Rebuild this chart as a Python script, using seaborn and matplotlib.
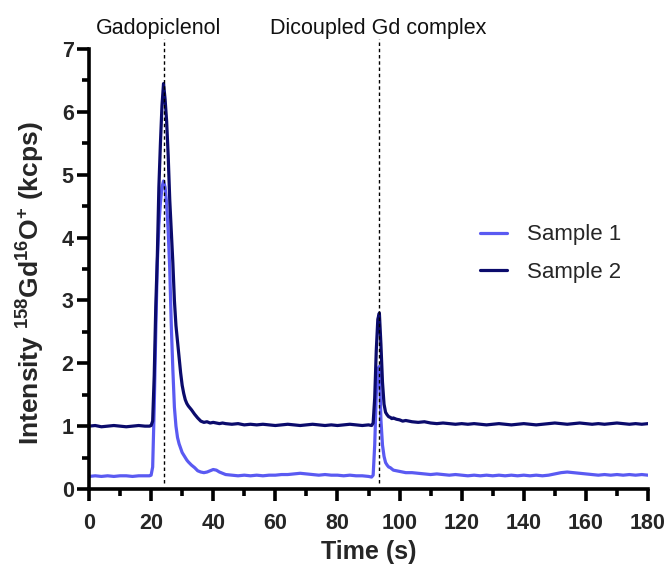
import numpy as np
import pandas as pd
import matplotlib
matplotlib.use("Agg")
import matplotlib.pyplot as plt
from matplotlib.ticker import MultipleLocator
import seaborn as sns

# ---------------- data ----------------
time_s = [0, 2, 4, 6, 8, 10, 12, 14, 16, 18,
          19, 19.5, 20, 20.5, 21, 21.5, 22, 22.5, 23, 23.5, 24, 24.5, 25, 25.5,
          26, 26.5, 27, 27.5, 28, 28.5, 29, 29.5, 30, 30.5, 31, 31.5, 32,
          33, 34, 35, 36, 37, 38, 39, 40, 41, 42, 43, 44,
          46, 48, 50, 52, 54, 56, 58, 60, 62, 64, 66, 68, 70, 72, 74, 76, 78,
          80, 82, 84, 86, 88, 90,
          91, 91.5, 92, 92.5, 93, 93.5, 94, 94.5, 95, 95.5, 96, 96.5, 97, 97.5, 98,
          99, 100, 101, 102,
          104, 106, 108, 110, 112, 114, 116, 118, 120, 122, 124, 126, 128, 130,
          132, 134, 136, 138, 140, 142, 144, 146, 148, 150, 152, 154, 156, 158,
          160, 162, 164, 166, 168, 170, 172, 174, 176, 178, 180]

sample1 = [0.20, 0.21, 0.20, 0.21, 0.20, 0.21, 0.21, 0.20, 0.21, 0.21,
           0.21, 0.21, 0.22, 0.35, 1.30, 2.50, 3.60, 4.20, 4.55, 4.80, 4.90, 4.80, 4.55, 4.10,
           3.50, 2.60, 1.90, 1.30, 1.00, 0.82, 0.72, 0.65, 0.58, 0.54, 0.50, 0.46, 0.43,
           0.38, 0.34, 0.29, 0.27, 0.26, 0.27, 0.29, 0.31, 0.30, 0.27, 0.25, 0.23,
           0.22, 0.21, 0.22, 0.21, 0.22, 0.21, 0.22, 0.22, 0.23, 0.23, 0.24, 0.25, 0.24, 0.23, 0.22, 0.23, 0.22,
           0.22, 0.21, 0.22, 0.21, 0.21, 0.20,
           0.19, 0.22, 0.70, 1.50, 1.90, 1.95, 1.10, 0.70, 0.52, 0.42, 0.38, 0.35, 0.34, 0.32, 0.30,
           0.29, 0.28, 0.27, 0.26,
           0.26, 0.25, 0.24, 0.23, 0.24, 0.23, 0.22, 0.23, 0.22, 0.21, 0.22, 0.21, 0.22, 0.21,
           0.22, 0.21, 0.22, 0.21, 0.22, 0.21, 0.22, 0.21, 0.22, 0.24, 0.26, 0.27, 0.26, 0.25,
           0.24, 0.23, 0.22, 0.23, 0.22, 0.23, 0.22, 0.23, 0.22, 0.23, 0.22]

sample2 = [1.00, 1.01, 0.99, 1.00, 1.01, 1.00, 0.99, 1.00, 1.01, 1.00,
           1.00, 1.00, 1.01, 1.08, 1.80, 2.90, 3.70, 4.80, 5.50, 6.10, 6.45, 6.20, 5.85, 5.30,
           4.60, 4.10, 3.60, 3.00, 2.60, 2.35, 2.10, 1.85, 1.65, 1.52, 1.42, 1.36, 1.32,
           1.26, 1.19, 1.13, 1.08, 1.06, 1.07, 1.05, 1.06, 1.05, 1.04, 1.05, 1.04,
           1.03, 1.04, 1.02, 1.03, 1.02, 1.03, 1.02, 1.01, 1.02, 1.03, 1.02, 1.01, 1.02, 1.03, 1.02, 1.01, 1.02,
           1.01, 1.02, 1.03, 1.02, 1.01, 1.02,
           1.01, 1.05, 1.45, 2.20, 2.70, 2.80, 2.30, 1.70, 1.35, 1.22, 1.18, 1.15, 1.14, 1.12, 1.13,
           1.11, 1.10, 1.08, 1.09,
           1.07, 1.06, 1.07, 1.05, 1.04, 1.05, 1.04, 1.03, 1.04, 1.03, 1.04, 1.03, 1.02, 1.03,
           1.04, 1.03, 1.02, 1.03, 1.04, 1.03, 1.02, 1.03, 1.04, 1.05, 1.04, 1.03, 1.04, 1.05,
           1.04, 1.03, 1.04, 1.03, 1.04, 1.05, 1.04, 1.03, 1.04, 1.03, 1.04]

series_names = ["Sample 1", "Sample 2"]
series_colors = ["#5a5af2", "#0b0b6c"]

peak_times = [24.0, 93.4]
peak_labels = ["Gadopiclenol", "Dicoupled Gd complex"]
peak_label_x = [22.5, 93.1]

x_ticks = [0, 20, 40, 60, 80, 100, 120, 140, 160, 180]
y_ticks = [0, 1, 2, 3, 4, 5, 6, 7]

df = pd.concat([
    pd.DataFrame({"Time": time_s, "Intensity": sample1, "Sample": series_names[0]}),
    pd.DataFrame({"Time": time_s, "Intensity": sample2, "Sample": series_names[1]}),
], ignore_index=True)

# ---------------- style ----------------
sns.set_theme(style="ticks")
plt.rcParams["font.family"] = ["Liberation Sans", "DejaVu Sans"]
plt.rcParams["mathtext.fontset"] = "custom"
plt.rcParams["mathtext.rm"] = "Liberation Sans:bold"
plt.rcParams["mathtext.it"] = "Liberation Sans:bold"
plt.rcParams["mathtext.bf"] = "Liberation Sans:bold"

fig = plt.figure(figsize=(6.67, 5.64), dpi=100)
ax = fig.add_axes([89 / 667, 75 / 564, 559 / 667, 440 / 564])

sns.lineplot(data=df, x="Time", y="Intensity", hue="Sample",
             palette=dict(zip(series_names, series_colors)),
             linewidth=2.3, estimator=None, sort=False, ax=ax, legend=True)

for pt in peak_times:
    ax.axvline(pt, ymin=0.014, ymax=1.023, color="black", lw=1.0,
               ls=(0, (2.5, 2.0)), clip_on=False, zorder=5)
for lx, lab in zip(peak_label_x, peak_labels):
    ax.text(lx, 1.034, lab, transform=ax.get_xaxis_transform(),
            ha="center", va="baseline", fontsize=15.5, color="#111111")

ax.set_xlim(0, 180)
ax.set_ylim(0, 7)
ax.set_xticks(x_ticks)
ax.set_yticks(y_ticks)
ax.xaxis.set_minor_locator(MultipleLocator(10))
ax.yaxis.set_minor_locator(MultipleLocator(0.5))

for s in ["top", "right"]:
    ax.spines[s].set_visible(False)
for s in ["left", "bottom"]:
    ax.spines[s].set_linewidth(2.6)
    ax.spines[s].set_color("black")

ax.tick_params(which="major", length=8.5, width=2.6, color="black",
               labelsize=15.5, direction="out")
ax.tick_params(axis="y", which="major", pad=2.5)
ax.tick_params(axis="x", which="major", pad=9)
ax.tick_params(which="minor", length=5, width=2.6, color="black", direction="out")
for lbl in ax.get_xticklabels() + ax.get_yticklabels():
    lbl.set_fontweight("bold")

ax.set_xlabel("Time (s)", fontsize=18, fontweight="bold", labelpad=4)
ax.set_ylabel("Intensity $^{158}$Gd$^{16}$O$^{+}$ (kcps)", fontsize=19,
              fontweight="bold")
ax.yaxis.set_label_coords(-0.076, 0.468)

handles, labels = ax.get_legend_handles_labels()
leg = ax.legend(handles, labels, frameon=False, fontsize=16,
                loc="upper left", bbox_to_anchor=(0.663, 0.647),
                handlelength=1.25, handletextpad=0.86, labelspacing=0.75)
for h in leg.get_lines():
    h.set_linewidth(2.3)

fig.savefig("out.png", dpi=100)
